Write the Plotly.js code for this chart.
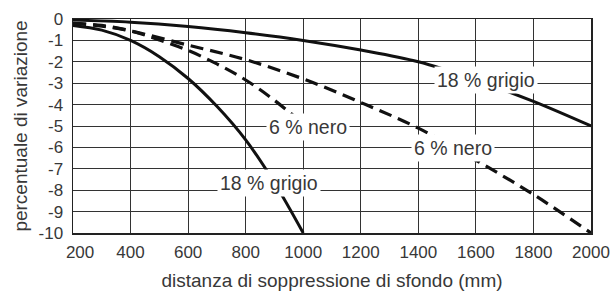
<!DOCTYPE html>
<html>
<head>
<meta charset="utf-8">
<script src="https://cdn.plot.ly/plotly-3.0.1.min.js"></script>
<style>html,body{margin:0;padding:0;background:#fff;}#chart{width:611px;height:291px;}</style>
</head>
<body>
<div id="chart"></div>
<script>
// Data
const grigioFarX = [200, 400, 600, 800, 1000, 1200, 1400, 1600, 1800, 2000];
const grigioFarY = [-0.05, -0.15, -0.35, -0.64, -1.0, -1.45, -2.0, -2.85, -3.85, -5.0];

const grigioNearX = [200, 300, 400, 500, 600, 700, 800, 900, 1000];
const grigioNearY = [-0.3, -0.52, -1.0, -1.76, -2.78, -4.08, -5.65, -7.65, -10.0];

const neroFarX = [200, 300, 400, 600, 800, 1000, 1200, 1400, 1600, 1800, 2000];
const neroFarY = [-0.2, -0.33, -0.56, -1.22, -1.9, -2.8, -3.9, -5.1, -6.6, -8.2, -10.0];

const neroNearX = [200, 300, 400, 500, 600, 700, 800, 900, 1000];
const neroNearY = [-0.2, -0.3, -0.55, -0.98, -1.47, -2.1, -2.85, -3.8, -4.9];

const xTickVals = [200, 400, 600, 800, 1000, 1200, 1400, 1600, 1800, 2000];
const xTickText = ['\u00a0\u00a0\u00a0200', '400', '600', '800', '1000', '1200', '1400', '1600', '1800', '2000'];
const yTickVals = [0, -1, -2, -3, -4, -5, -6, -7, -8, -9, -10];
const yTickText = ['0', '-1', '-2', '-3', '-4', '-5', '-6', '-7', '-8', '-9', '-10'];

const labelText = ['18 % grigio', '6 % nero', '6 % nero', '18 % grigio'];
const labelX = [1635, 1017, 1520, 881];
const labelY = [-2.85, -5.05, -6.05, -7.68];

const FONT = 'Liberation Sans, Arial, Helvetica, sans-serif';
const TXT = '#383838';
const LINE = '#111111';

const traces = [
  {x: grigioFarX, y: grigioFarY, mode: 'lines', line: {color: LINE, width: 3, shape: 'spline', smoothing: 1}},
  {x: grigioNearX, y: grigioNearY, mode: 'lines', line: {color: LINE, width: 3, shape: 'spline', smoothing: 1}},
  {x: neroFarX, y: neroFarY, mode: 'lines', line: {color: LINE, width: 3.2, dash: '13px,7px', shape: 'spline', smoothing: 1}},
  {x: neroNearX, y: neroNearY, mode: 'lines', line: {color: LINE, width: 3.2, dash: '13px,7px', shape: 'spline', smoothing: 1}}
];

const annotations = labelText.map((t, i) => ({
  x: labelX[i], y: labelY[i], xref: 'x', yref: 'y', text: t, showarrow: false,
  font: {family: FONT, size: 19.5, color: TXT}, bgcolor: '#ffffff', borderpad: 2
}));

const layout = {
  width: 611, height: 291,
  margin: {l: 73, r: 20, t: 19, b: 58},
  paper_bgcolor: '#ffffff', plot_bgcolor: '#ffffff',
  showlegend: false,
  xaxis: {
    range: [200, 2000], tickvals: xTickVals, ticktext: xTickText,
    showgrid: true, gridcolor: '#333333', gridwidth: 1,
    showline: true, mirror: true, linecolor: '#222222', linewidth: 1.5,
    zeroline: false, ticks: 'outside', ticklen: 3, tickcolor: 'rgba(0,0,0,0)',
    tickfont: {family: FONT, size: 17, color: TXT},
    title: {text: 'distanza di soppressione di sfondo (mm)', font: {family: FONT, size: 19, color: TXT}, standoff: 18}
  },
  yaxis: {
    range: [-10, 0], tickvals: yTickVals, ticktext: yTickText,
    showgrid: true, gridcolor: '#333333', gridwidth: 1,
    showline: true, mirror: true, linecolor: '#222222', linewidth: 1.5,
    zeroline: false, ticks: 'outside', ticklen: 5, tickcolor: 'rgba(0,0,0,0)',
    tickfont: {family: FONT, size: 17, color: TXT},
    title: {text: 'percentuale di variazione', font: {family: FONT, size: 19, color: TXT}, standoff: 6}
  },
  annotations: annotations
};

Plotly.newPlot('chart', traces, layout, {staticPlot: true, displayModeBar: false});
</script>
</body>
</html>
